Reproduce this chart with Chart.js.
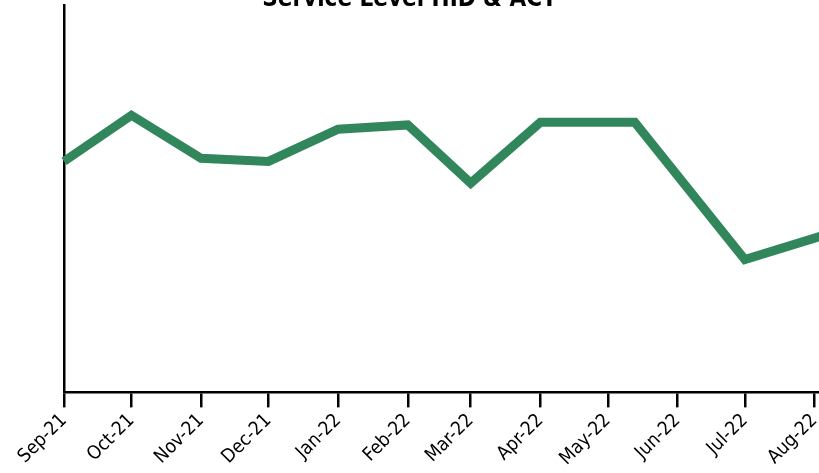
<!DOCTYPE html>
<html>
<head>
<meta charset="utf-8">
<script src="https://cdn.jsdelivr.net/npm/chart.js@4"></script>
<style>
    html, body { margin: 0; padding: 0; overflow: hidden; background: #fff; }
    #wrap { position: relative; width: 819px; height: 473px; overflow: hidden; }
    #box { position: absolute; left: 0; top: -15px; width: 819px; height: 487px; }
</style>
</head>
<body>
<div id="wrap"><div id="box"><canvas id="myChart"></canvas></div></div>
<script>
// tick labels on the x axis (one per month)
var monthLabels = ['Sep-21', 'Oct-21', 'Nov-21', 'Dec-21', 'Jan-22', 'Feb-22', 'Mar-22', 'Apr-22', 'May-22', 'Jun-22', 'Jul-22', 'Aug-22'];
var monthStarts = ['2021-09-01', '2021-10-01', '2021-11-01', '2021-12-01', '2022-01-01', '2022-02-01', '2022-03-01', '2022-04-01', '2022-05-01', '2022-06-01', '2022-07-01', '2022-08-01'];

// the series
var pointDates = ['2021-09-01', '2021-10-01', '2021-11-01', '2021-12-01', '2022-01-01', '2022-02-01', '2022-03-01', '2022-04-01', '2022-05-13', '2022-07-01', '2022-08-15'];
var serviceLevel = [59.6, 71.5, 60.4, 59.6, 67.9, 69.0, 54.0, 69.7, 69.7, 34.3, 42.3];

var axisMin = '2021-09-01';
var axisMax = '2022-08-03';

function toDay(s) {
    return Date.parse(s) / 86400000;
}

var points = pointDates.map(function(d, i) {
    return { x: toDay(d), y: serviceLevel[i] };
});

var labelByDay = {};
monthStarts.forEach(function(d, i) {
    labelByDay[toDay(d)] = monthLabels[i];
});

var fontFamily = "'DejaVu Sans Condensed', 'Liberation Sans', Arial, sans-serif";

var ctx = document.getElementById('myChart').getContext('2d');
var myChart = new Chart(ctx, {
    type: 'line',
    data: {
        datasets: [{
            label: 'Service Level',
            data: points,
            borderColor: '#31875b',
            borderWidth: 9,
            pointRadius: 0,
            tension: 0,
            clip: false,
            borderJoinStyle: 'miter'
        }]
    },
    options: {
        responsive: true,
        maintainAspectRatio: false,
        animation: false,
        layout: { padding: 0 },
        plugins: {
            legend: { display: false },
            tooltip: { enabled: false },
            title: {
                display: true,
                text: 'Service Level HID & ACT',
                color: '#000',
                font: { family: fontFamily, size: 24, weight: 'bold' },
                padding: { top: 0, bottom: -9 }
            }
        },
        scales: {
            x: {
                type: 'linear',
                min: toDay(axisMin),
                max: toDay(axisMax),
                afterBuildTicks: function(scale) {
                    scale.ticks = monthStarts.map(function(d) { return { value: toDay(d) }; });
                },
                afterFit: function(scale) {
                    scale.paddingLeft = 0;
                    scale.paddingRight = 0;
                },
                ticks: {
                    color: '#000',
                    font: { family: fontFamily, size: 19 },
                    minRotation: 45,
                    maxRotation: 45,
                    padding: 2,
                    callback: function(v) { return labelByDay[v]; }
                },
                grid: {
                    drawOnChartArea: false,
                    drawTicks: true,
                    tickLength: 15,
                    color: '#000',
                    lineWidth: 2.5
                },
                border: { display: true, color: '#000', width: 2.5 }
            },
            y: {
                min: 0,
                max: 100,
                afterFit: function(scale) {
                    scale.width = 64;
                },
                ticks: { display: false },
                grid: { display: false },
                border: { display: true, color: '#000', width: 2.5 }
            }
        }
    }
});
</script>
</body>
</html>
